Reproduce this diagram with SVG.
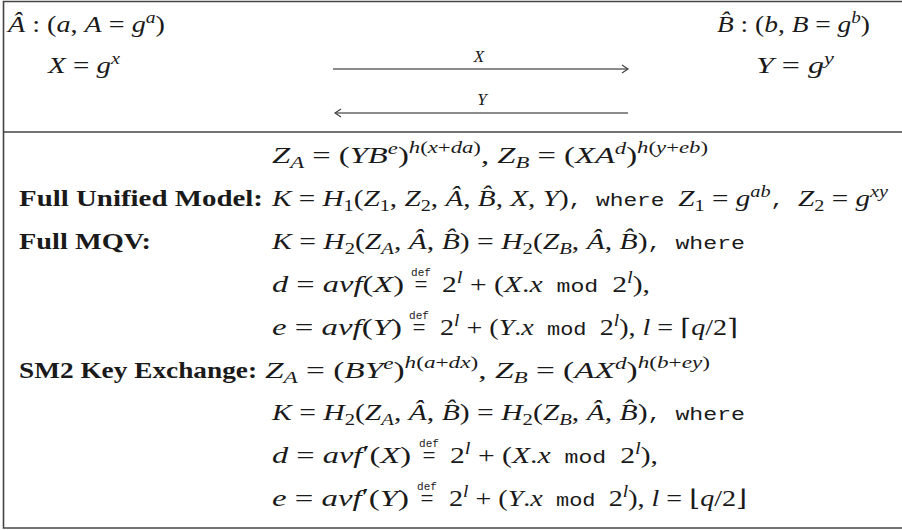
<svg xmlns="http://www.w3.org/2000/svg" width="902" height="530" viewBox="0 0 902 530">
<style>
.t{font-family:"Liberation Serif","DejaVu Serif",serif;font-size:23px;fill:#1a1a1a}
.i{font-style:italic}
.s{font-size:16px}
.tt{font-family:"Liberation Mono","DejaVu Sans Mono",monospace;font-size:18px}
.b{font-weight:bold}
.def{font-family:"Liberation Mono","DejaVu Sans Mono",monospace;font-size:11px;font-style:normal;text-anchor:middle}
.lbl{font-family:"Liberation Serif","DejaVu Serif",serif;font-size:17px;font-style:italic;fill:#1a1a1a;text-anchor:middle}
.frame{stroke:#444;stroke-width:1.6;fill:none}
.conn{stroke:#666;stroke-width:1.3;fill:none}
</style>
<defs>
<marker id="head" markerWidth="10" markerHeight="10" refX="7" refY="5" orient="auto" markerUnits="userSpaceOnUse">
<path d="M1,1 L7,5 L1,9" fill="none" stroke="#444" stroke-width="1.2"/>
</marker>
</defs>
<rect width="902" height="530" fill="#fff"/>
<g id="frame">
<path class="frame" d="M902,1.5 H3.5 V528 H902"/>
<path class="frame" d="M3.5,132 H902"/>
</g>
<g id="alice">
<text class="t" x="8" y="32" textLength="157" lengthAdjust="spacingAndGlyphs"><tspan class="i">Â</tspan> : (<tspan class="i">a</tspan>, <tspan class="i">A</tspan> = <tspan class="i">g</tspan><tspan class="i s" dy="-9">a</tspan><tspan dy="9">)</tspan></text>
<text class="t" x="48" y="73" textLength="72" lengthAdjust="spacingAndGlyphs"><tspan class="i">X</tspan> = <tspan class="i">g</tspan><tspan class="i s" dy="-9">x</tspan></text>
</g>
<g id="bob">
<text class="t" x="717" y="32" textLength="153" lengthAdjust="spacingAndGlyphs"><tspan class="i">B̂</tspan> : (<tspan class="i">b</tspan>, <tspan class="i">B</tspan> = <tspan class="i">g</tspan><tspan class="i s" dy="-9">b</tspan><tspan dy="9">)</tspan></text>
<text class="t" x="756" y="73" textLength="78" lengthAdjust="spacingAndGlyphs"><tspan class="i">Y</tspan> = <tspan class="i">g</tspan><tspan class="i s" dy="-9">y</tspan></text>
</g>
<g id="connectors">
<line class="conn" x1="333" y1="69" x2="628" y2="69" marker-end="url(#head)"/>
<text class="lbl" x="479" y="62">X</text>
<line class="conn" x1="628" y1="113" x2="335" y2="113" marker-end="url(#head)"/>
<text class="lbl" x="482" y="105">Y</text>
</g>
<g id="common">
<text class="t" x="272" y="163" textLength="436" lengthAdjust="spacingAndGlyphs"><tspan class="i">Z</tspan><tspan class="i s" dy="5">A</tspan><tspan dy="-5"> = (</tspan><tspan class="i">YB</tspan><tspan class="i s" dy="-9">e</tspan><tspan dy="9">)</tspan><tspan class="s" dy="-10"><tspan class="i">h</tspan>(<tspan class="i">x</tspan>+<tspan class="i">da</tspan>)</tspan><tspan dy="10">, </tspan><tspan class="i">Z</tspan><tspan class="i s" dy="5">B</tspan><tspan dy="-5"> = (</tspan><tspan class="i">XA</tspan><tspan class="i s" dy="-9">d</tspan><tspan dy="9">)</tspan><tspan class="s" dy="-10"><tspan class="i">h</tspan>(<tspan class="i">y</tspan>+<tspan class="i">eb</tspan>)</tspan></text>
</g>
<g id="full-unified-model">
<text class="t b" x="19" y="206" textLength="244" lengthAdjust="spacingAndGlyphs">Full Unified Model:</text>
<text class="t" x="272" y="206" textLength="616" lengthAdjust="spacingAndGlyphs"><tspan class="i">K</tspan> = <tspan class="i">H</tspan><tspan class="s" dy="5">1</tspan><tspan dy="-5">(</tspan><tspan class="i">Z</tspan><tspan class="s" dy="5">1</tspan><tspan dy="-5">, </tspan><tspan class="i">Z</tspan><tspan class="s" dy="5">2</tspan><tspan dy="-5">, </tspan><tspan class="i">Â</tspan>, <tspan class="i">B̂</tspan>, <tspan class="i">X</tspan>, <tspan class="i">Y</tspan>)<tspan class="tt">, where </tspan><tspan class="i">Z</tspan><tspan class="s" dy="5">1</tspan><tspan dy="-5"> = </tspan><tspan class="i">g</tspan><tspan class="i s" dy="-9">ab</tspan><tspan class="tt" dy="9">,&#160;</tspan><tspan class="i">Z</tspan><tspan class="s" dy="5">2</tspan><tspan dy="-5"> = </tspan><tspan class="i">g</tspan><tspan class="i s" dy="-9">xy</tspan></text>
</g>
<g id="full-mqv">
<text class="t b" x="19" y="249" textLength="132" lengthAdjust="spacingAndGlyphs">Full MQV:</text>
<text class="t" x="272" y="249" textLength="473" lengthAdjust="spacingAndGlyphs"><tspan class="i">K</tspan> = <tspan class="i">H</tspan><tspan class="s" dy="5">2</tspan><tspan dy="-5">(</tspan><tspan class="i">Z</tspan><tspan class="i s" dy="5">A</tspan><tspan dy="-5">, </tspan><tspan class="i">Â</tspan>, <tspan class="i">B̂</tspan>) = <tspan class="i">H</tspan><tspan class="s" dy="5">2</tspan><tspan dy="-5">(</tspan><tspan class="i">Z</tspan><tspan class="i s" dy="5">B</tspan><tspan dy="-5">, </tspan><tspan class="i">Â</tspan>, <tspan class="i">B̂</tspan>)<tspan class="tt">, where</tspan></text>
<text class="t" x="272" y="292" textLength="132" lengthAdjust="spacingAndGlyphs"><tspan class="i">d</tspan> = <tspan class="i">avf</tspan>(<tspan class="i">X</tspan>)</text>
<text class="t" x="421" y="292" text-anchor="middle">=<tspan class="def" x="421" y="276">def</tspan></text>
<text class="t" x="442" y="292" textLength="208" lengthAdjust="spacingAndGlyphs">2<tspan class="i s" dy="-9">l</tspan><tspan dy="9"> + (</tspan><tspan class="i">X</tspan>.<tspan class="i">x</tspan><tspan class="tt">&#160;mod&#160;</tspan>2<tspan class="i s" dy="-9">l</tspan><tspan dy="9">),</tspan></text>
<text class="t" x="272" y="335" textLength="130" lengthAdjust="spacingAndGlyphs"><tspan class="i">e</tspan> = <tspan class="i">avf</tspan>(<tspan class="i">Y</tspan>)</text>
<text class="t" x="419" y="335" text-anchor="middle">=<tspan class="def" x="419" y="319">def</tspan></text>
<text class="t" x="440" y="335" textLength="298" lengthAdjust="spacingAndGlyphs">2<tspan class="i s" dy="-9">l</tspan><tspan dy="9"> + (</tspan><tspan class="i">Y</tspan>.<tspan class="i">x</tspan><tspan class="tt">&#160;mod&#160;</tspan>2<tspan class="i s" dy="-9">l</tspan><tspan dy="9">), </tspan><tspan class="i">l</tspan> = ⌈<tspan class="i">q</tspan>/2⌉</text>
</g>
<g id="sm2-key-exchange">
<text class="t b" x="19" y="378" textLength="238" lengthAdjust="spacingAndGlyphs">SM2 Key Exchange:</text>
<text class="t" x="265" y="378" textLength="445" lengthAdjust="spacingAndGlyphs"><tspan class="i">Z</tspan><tspan class="i s" dy="5">A</tspan><tspan dy="-5"> = (</tspan><tspan class="i">BY</tspan><tspan class="i s" dy="-9">e</tspan><tspan dy="9">)</tspan><tspan class="s" dy="-10"><tspan class="i">h</tspan>(<tspan class="i">a</tspan>+<tspan class="i">dx</tspan>)</tspan><tspan dy="10">, </tspan><tspan class="i">Z</tspan><tspan class="i s" dy="5">B</tspan><tspan dy="-5"> = (</tspan><tspan class="i">AX</tspan><tspan class="i s" dy="-9">d</tspan><tspan dy="9">)</tspan><tspan class="s" dy="-10"><tspan class="i">h</tspan>(<tspan class="i">b</tspan>+<tspan class="i">ey</tspan>)</tspan></text>
<text class="t" x="272" y="420" textLength="473" lengthAdjust="spacingAndGlyphs"><tspan class="i">K</tspan> = <tspan class="i">H</tspan><tspan class="s" dy="5">2</tspan><tspan dy="-5">(</tspan><tspan class="i">Z</tspan><tspan class="i s" dy="5">A</tspan><tspan dy="-5">, </tspan><tspan class="i">Â</tspan>, <tspan class="i">B̂</tspan>) = <tspan class="i">H</tspan><tspan class="s" dy="5">2</tspan><tspan dy="-5">(</tspan><tspan class="i">Z</tspan><tspan class="i s" dy="5">B</tspan><tspan dy="-5">, </tspan><tspan class="i">Â</tspan>, <tspan class="i">B̂</tspan>)<tspan class="tt">, where</tspan></text>
<text class="t" x="272" y="463" textLength="139" lengthAdjust="spacingAndGlyphs"><tspan class="i">d</tspan> = <tspan class="i">avf</tspan><tspan dy="-2">′</tspan><tspan dy="2">(</tspan><tspan class="i">X</tspan>)</text>
<text class="t" x="429" y="463" text-anchor="middle">=<tspan class="def" x="429" y="447">def</tspan></text>
<text class="t" x="450" y="463" textLength="208" lengthAdjust="spacingAndGlyphs">2<tspan class="i s" dy="-9">l</tspan><tspan dy="9"> + (</tspan><tspan class="i">X</tspan>.<tspan class="i">x</tspan><tspan class="tt">&#160;mod&#160;</tspan>2<tspan class="i s" dy="-9">l</tspan><tspan dy="9">),</tspan></text>
<text class="t" x="272" y="506" textLength="137" lengthAdjust="spacingAndGlyphs"><tspan class="i">e</tspan> = <tspan class="i">avf</tspan><tspan dy="-2">′</tspan><tspan dy="2">(</tspan><tspan class="i">Y</tspan>)</text>
<text class="t" x="427" y="506" text-anchor="middle">=<tspan class="def" x="427" y="490">def</tspan></text>
<text class="t" x="449" y="506" textLength="298" lengthAdjust="spacingAndGlyphs">2<tspan class="i s" dy="-9">l</tspan><tspan dy="9"> + (</tspan><tspan class="i">Y</tspan>.<tspan class="i">x</tspan><tspan class="tt">&#160;mod&#160;</tspan>2<tspan class="i s" dy="-9">l</tspan><tspan dy="9">), </tspan><tspan class="i">l</tspan> = ⌊<tspan class="i">q</tspan>/2⌋</text>
</g>
</svg>
